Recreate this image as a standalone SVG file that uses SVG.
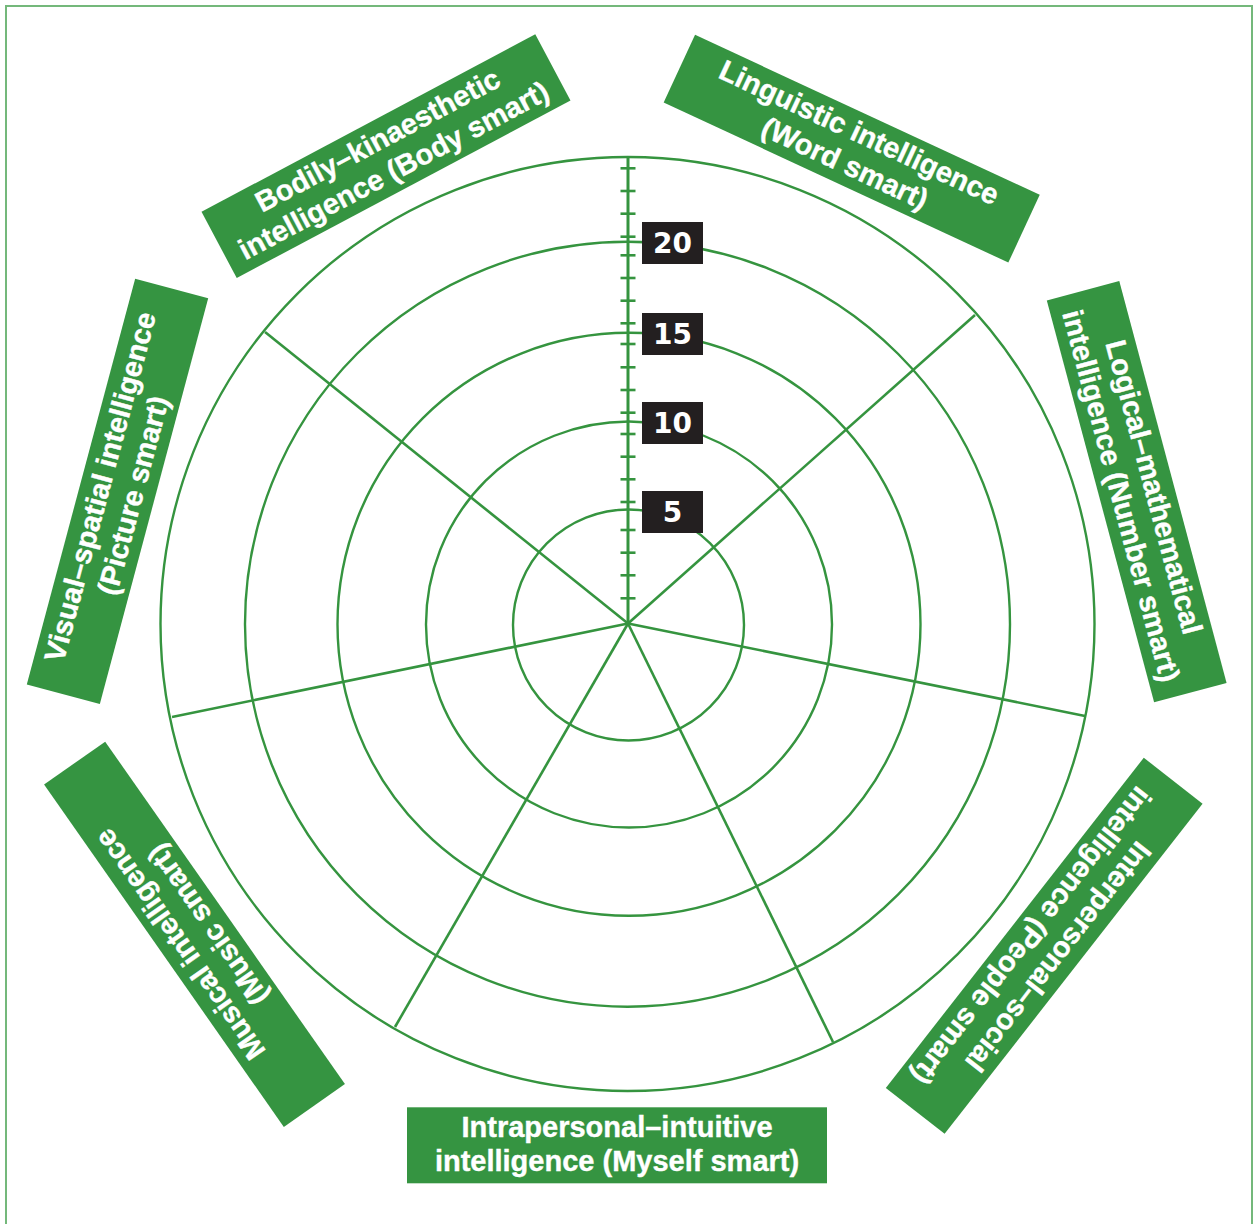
<svg xmlns="http://www.w3.org/2000/svg" width="1256" height="1224" viewBox="0 0 1256 1224">
<style>
.frame{fill:none;stroke:#74b87b;stroke-width:2}
.ring{fill:none;stroke:#35943f;stroke-width:2.4}
.spoke{stroke:#35943f;stroke-width:2.6;fill:none}
.axis{stroke:#35943f;stroke-width:3}
.tick{stroke:#35943f;stroke-width:2.6}
.lbox{fill:#359441}
.ltxt{fill:#ffffff;stroke:#ffffff;stroke-width:0.4;font-family:"Liberation Sans",Arial,sans-serif;font-weight:bold;font-size:29px;text-anchor:middle}
.nbox{fill:#231f20}
.ntxt{fill:#ffffff;font-family:"DejaVu Sans","Liberation Sans",sans-serif;font-weight:bold;font-size:28px;text-anchor:middle}
</style>
<rect width="1256" height="1224" fill="#ffffff"/>
<path class="frame" d="M6,1224 V6 H1252 V1224"/>
<g id="rings">
<circle class="ring" cx="628.5" cy="625" r="115.5"/>
<circle class="ring" cx="629" cy="624.5" r="203"/>
<circle class="ring" cx="629" cy="624.3" r="291.5"/>
<circle class="ring" cx="627.5" cy="624.2" r="382.5"/>
<circle class="ring" cx="627.5" cy="624" r="467"/>
</g>
<g id="connectors">
<line class="axis" x1="628" y1="623.5" x2="628" y2="157"/>
<line class="spoke" x1="628" y1="623.5" x2="975" y2="315"/>
<line class="spoke" x1="628" y1="623.5" x2="1085" y2="716"/>
<line class="spoke" x1="628" y1="623.5" x2="833" y2="1042"/>
<line class="spoke" x1="628" y1="623.5" x2="395" y2="1027"/>
<line class="spoke" x1="628" y1="623.5" x2="172" y2="717"/>
<line class="spoke" x1="628" y1="623.5" x2="265" y2="332"/>
</g>
<g id="ticks">
<line class="tick" x1="620.5" x2="635.5" y1="598.3" y2="598.3"/>
<line class="tick" x1="620.5" x2="635.5" y1="575.3" y2="575.3"/>
<line class="tick" x1="620.5" x2="635.5" y1="552.7" y2="552.7"/>
<line class="tick" x1="620.5" x2="635.5" y1="530" y2="530"/>
<line class="tick" x1="620.5" x2="635.5" y1="502" y2="502"/>
<line class="tick" x1="620.5" x2="635.5" y1="479.3" y2="479.3"/>
<line class="tick" x1="620.5" x2="635.5" y1="456.7" y2="456.7"/>
<line class="tick" x1="620.5" x2="635.5" y1="434" y2="434"/>
<line class="tick" x1="620.5" x2="635.5" y1="412.7" y2="412.7"/>
<line class="tick" x1="620.5" x2="635.5" y1="390" y2="390"/>
<line class="tick" x1="620.5" x2="635.5" y1="367.3" y2="367.3"/>
<line class="tick" x1="620.5" x2="635.5" y1="344" y2="344"/>
<line class="tick" x1="620.5" x2="635.5" y1="323.3" y2="323.3"/>
<line class="tick" x1="620.5" x2="635.5" y1="300.7" y2="300.7"/>
<line class="tick" x1="620.5" x2="635.5" y1="278" y2="278"/>
<line class="tick" x1="620.5" x2="635.5" y1="255.3" y2="255.3"/>
<line class="tick" x1="620.5" x2="635.5" y1="236.7" y2="236.7"/>
<line class="tick" x1="620.5" x2="635.5" y1="213.7" y2="213.7"/>
<line class="tick" x1="620.5" x2="635.5" y1="191" y2="191"/>
<line class="tick" x1="620.5" x2="635.5" y1="168.3" y2="168.3"/>
</g>
<g id="scale-20"><rect class="nbox" x="642" y="222" width="61" height="42"/><text class="ntxt" x="672.5" y="253">20</text></g>
<g id="scale-15"><rect class="nbox" x="642" y="313" width="61" height="42"/><text class="ntxt" x="672.5" y="344">15</text></g>
<g id="scale-10"><rect class="nbox" x="642" y="402" width="61" height="42"/><text class="ntxt" x="672.5" y="433">10</text></g>
<g id="scale-5"><rect class="nbox" x="642" y="491" width="61" height="42"/><text class="ntxt" x="672.5" y="522">5</text></g>
<g id="label-bodily" transform="translate(386,156.2) rotate(-28)">
<rect class="lbox" x="-189" y="-37.5" width="378" height="75"/>
<text class="ltxt" x="0" y="-8">Bodily–kinaesthetic</text>
<text class="ltxt" x="0" y="26">intelligence (Body smart)</text>
</g>
<g id="label-linguistic" transform="translate(851.7,148.7) rotate(24.9)">
<rect class="lbox" x="-190" y="-37.3" width="380" height="74.6"/>
<text class="ltxt" x="0" y="-8">Linguistic intelligence</text>
<text class="ltxt" x="0" y="26">(Word smart)</text>
</g>
<g id="label-logical" transform="translate(1136.7,491.7) rotate(75.05)">
<rect class="lbox" x="-208" y="-37.5" width="416" height="75"/>
<text class="ltxt" x="0" y="-8">Logical–mathematical</text>
<text class="ltxt" x="0" y="26">intelligence (Number smart)</text>
</g>
<g id="label-interpersonal" transform="translate(1044.2,945.8) rotate(128)">
<rect class="lbox" x="-209.5" y="-37.3" width="419" height="74.6"/>
<text class="ltxt" x="0" y="-8">Interpersonal–social</text>
<text class="ltxt" x="0" y="26">intelligence (People smart)</text>
</g>
<g id="label-intrapersonal" transform="translate(617,1145.3)">
<rect class="lbox" x="-210" y="-38" width="420" height="76"/>
<text class="ltxt" x="0" y="-8">Intrapersonal–intuitive</text>
<text class="ltxt" x="0" y="26">intelligence (Myself smart)</text>
</g>
<g id="label-musical" transform="translate(194.5,934.3) rotate(-125)">
<rect class="lbox" x="-209" y="-37.3" width="418" height="74.6"/>
<text class="ltxt" x="0" y="-8">Musical intelligence</text>
<text class="ltxt" x="0" y="26">(Music smart)</text>
</g>
<g id="label-visual" transform="translate(117.5,491.3) rotate(-75.05)">
<rect class="lbox" x="-210" y="-37.8" width="420" height="75.6"/>
<text class="ltxt" x="0" y="-8">Visual–spatial intelligence</text>
<text class="ltxt" x="0" y="26">(Picture smart)</text>
</g>
</svg>
